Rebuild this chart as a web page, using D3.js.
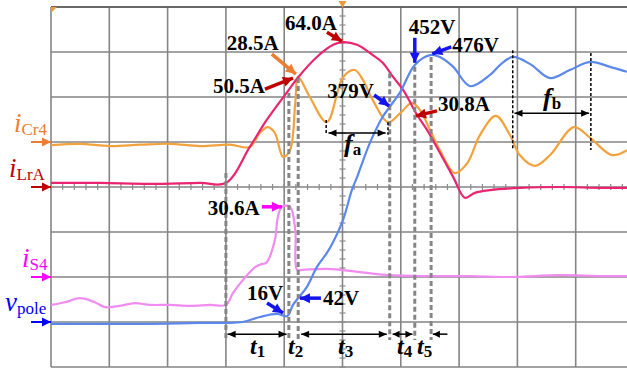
<!DOCTYPE html>
<html>
<head>
<meta charset="utf-8">
<script src="https://cdn.jsdelivr.net/npm/d3@7"></script>
<style>
  html, body { margin: 0; padding: 0; background: #fff; }
  svg { display: block; }
</style>
</head>
<body>
<svg id="chart" width="627" height="369"></svg>
<script>
// scope traces: [time (div), level (div from bottom)]
const iCr4 = [[0,4.93],[0.5,4.96],[1.01,4.91],[1.53,4.94],[2.04,4.96],[2.56,4.91],[3.07,4.94],[3.41,4.89],
  [3.58,5.2],[3.72,5.33],[3.84,5.2],[3.98,4.67],[4.1,4.82],[4.19,5.87],[4.24,6.44],[4.44,6.0],[4.73,5.44],
  [5.01,6.44],[5.21,6.6],[5.35,6.38],[5.52,5.93],[5.78,5.44],[5.99,5.64],[6.19,5.87],[6.33,5.71],[6.5,5.27],
  [6.67,4.82],[6.93,4.31],[7.14,4.53],[7.36,5.16],[7.63,5.58],[7.87,5.16],[8.04,4.71],[8.3,4.47],[8.56,4.71],
  [8.97,5.33],[9.25,5.09],[9.62,4.71],[9.88,4.82]];
const iLrA = [[0,4.09],[0.84,4.09],[1.7,4.07],[2.56,4.09],[3.0,4.09],[3.41,4.89],[3.7,5.49],[4.05,6.11],
  [4.24,6.44],[4.56,6.89],[4.84,7.16],[5.01,7.22],[5.25,7.16],[5.52,6.93],[5.69,6.76],[5.87,6.44],[6.04,6.16],
  [6.28,5.6],[6.45,5.27],[6.67,4.76],[6.9,4.22],[7.1,3.76],[7.27,3.87],[7.53,3.93],[8.04,3.98],[8.73,4.0],
  [9.41,3.98],[9.88,3.98]];
const iS4 = [[0,1.38],[0.24,1.44],[0.5,1.53],[0.75,1.44],[0.93,1.33],[1.18,1.36],[1.44,1.42],[1.7,1.38],
  [2.04,1.38],[2.38,1.36],[2.73,1.38],[3.0,1.38],[3.12,1.64],[3.29,1.93],[3.5,2.22],[3.58,2.27],[3.7,2.33],
  [3.84,2.82],[3.89,3.33],[3.96,3.56],[4.1,3.56],[4.19,3.04],[4.22,2.16],[4.32,2.16],[4.73,2.18],[5.3,2.11],
  [5.81,2.04],[6.5,2.02],[7.19,2.02],[7.87,2.0],[8.73,2.04],[9.41,2.02],[9.88,2.02]];
const vPole = [[0,0.96],[0.84,0.96],[1.7,0.96],[2.56,0.98],[2.98,0.98],[3.29,1.0],[3.58,1.11],[3.88,1.18],
  [4.05,1.13],[4.15,1.38],[4.24,1.53],[4.39,1.78],[4.56,2.22],[4.73,2.53],[4.84,2.78],[5.01,3.27],[5.16,3.93],
  [5.25,4.22],[5.47,4.98],[5.69,5.56],[5.81,5.78],[5.99,6.11],[6.24,6.71],[6.5,6.93],[6.67,6.89],[6.9,6.67],
  [7.19,6.24],[7.53,6.49],[7.7,6.71],[7.92,6.89],[8.22,6.73],[8.56,6.42],[8.9,6.6],[9.25,6.78],[9.59,6.67],
  [9.88,6.56]];

const channelNames = ["i|Cr4", "i|LrA", "i|S4", "v|pole"];
const channelOffsets = [5, 4, 2, 1];
const traceColors = ["#F2A23C", "#EA2470", "#F08CF0", "#5B88EA"];
const labelColors = ["#ED7D31", "#C00000", "#FF00FF", "#0000FF"];

// interval boundaries (gray dashed) and their top ends
const edgeTimes = [3.0, 4.08, 4.24, 5.81, 6.24, 6.52];
const edgeTops = [4.31, 6.09, 6.42, 6.53, 6.67, 6.89];

const calloutText = ["64.0A", "28.5A", "50.5A", "379V", "452V", "476V", "30.8A", "30.6A", "16V", "42V"];
const calloutTip = [[4.99,7.24],[4.2,6.51],[4.15,6.42],[5.8,5.8],[6.24,6.76],[6.54,6.96],[6.26,5.58],
  [3.96,3.56],[3.98,1.2],[4.27,1.53]];

const x = d3.scaleLinear().domain([0, 10]).range([51, 634]);
const y = d3.scaleLinear().domain([0, 8]).range([367, 7]);

const svg = d3.select("#chart");
const serif = "'Liberation Serif', 'Times New Roman', serif";

svg.append("defs").append("clipPath").attr("id", "plot")
  .append("rect").attr("x", x(0)).attr("y", y(8)).attr("width", x(10) - x(0)).attr("height", y(0) - y(8));

// grid
const grid = svg.append("g").attr("stroke", "#858585").attr("stroke-width", 1.6);
grid.selectAll(".gx").data(d3.range(0, 11)).join("line")
  .attr("x1", d => x(d)).attr("x2", d => x(d)).attr("y1", y(0)).attr("y2", y(8));
grid.selectAll(".gy").data(d3.range(0, 9)).join("line")
  .attr("x1", x(0)).attr("x2", x(10)).attr("y1", d => y(d)).attr("y2", d => y(d));
svg.append("line").attr("x1", x(0)).attr("x2", x(10)).attr("y1", y(8)).attr("y2", y(8))
  .attr("stroke", "#555").attr("stroke-width", 1.6);

const minor = svg.append("g").attr("stroke", "#8a8a8a").attr("stroke-width", 1.2);
minor.selectAll(".mx").data(d3.range(0, 50).map(i => i * 0.2)).join("line")
  .attr("x1", d => x(d)).attr("x2", d => x(d)).attr("y1", y(4) - 3).attr("y2", y(4) + 3);
minor.selectAll(".my").data(d3.range(0, 40).map(i => i * 0.2)).join("line")
  .attr("x1", x(5) - 3).attr("x2", x(5) + 3).attr("y1", d => y(d)).attr("y2", d => y(d));

// trigger marks
svg.append("path").attr("fill", "#ED9A3A")
  .attr("d", `M${x(5) - 4},${y(8) - 6}L${x(5) + 4},${y(8) - 6}L${x(5)},${y(8) + 1}Z`);
svg.append("path").attr("fill", "#ED9A3A")
  .attr("d", `M${x(0)},${y(8)}L${x(0) + 6},${y(8)}L${x(0)},${y(8) + 6}Z`);

// traces
const line = d3.line().x(d => x(d[0])).y(d => y(d[1])).curve(d3.curveCatmullRom.alpha(0.5));
const traces = svg.append("g").attr("clip-path", "url(#plot)").attr("fill", "none")
  .attr("stroke-width", 2.2).attr("stroke-linejoin", "round");
[iCr4, iLrA, iS4, vPole].forEach((s, i) => {
  traces.append("path").attr("d", line(s)).attr("stroke", traceColors[i]);
});

// arrows
function arrow(g, x1, y1, x2, y2, color, sw, hl, hw, both) {
  g.append("line").attr("x1", x1).attr("y1", y1).attr("x2", x2).attr("y2", y2)
    .attr("stroke", color).attr("stroke-width", sw);
  const head = (ax, ay, bx, by) => {
    const a = Math.atan2(by - ay, bx - ax);
    const px = bx - hl * Math.cos(a), py = by - hl * Math.sin(a);
    const nx = -Math.sin(a) * hw / 2, ny = Math.cos(a) * hw / 2;
    g.append("path").attr("fill", color)
      .attr("d", `M${bx},${by}L${px + nx},${py + ny}L${px - nx},${py - ny}Z`);
  };
  head(x1, y1, x2, y2);
  if (both) head(x2, y2, x1, y1);
}

// gray dashed interval edges
const edges = svg.append("g").attr("stroke", "#858585").attr("stroke-width", 3).attr("stroke-dasharray", "5,3");
edgeTimes.forEach((t, i) => {
  edges.append("line").attr("x1", x(t)).attr("x2", x(t)).attr("y1", y(edgeTops[i])).attr("y2", y(0.6));
});

// black dotted period marks
const periodMarks = [[4.72, 5.49, 5.16], [5.78, 5.44, 5.16], [7.92, 7.04, 4.82], [9.26, 6.98, 4.82]];
const dots = svg.append("g").attr("stroke", "#000").attr("stroke-width", 1.5).attr("stroke-dasharray", "3,2");
periodMarks.forEach(d => {
  dots.append("line").attr("x1", x(d[0])).attr("x2", x(d[0])).attr("y1", y(d[1])).attr("y2", y(d[2]));
});

const ann = svg.append("g");
arrow(ann, x(4.76), y(5.2), x(5.74), y(5.2), "#000", 1.5, 8, 7, true);
arrow(ann, x(7.95), y(5.64), x(9.23), y(5.64), "#000", 1.5, 8, 7, true);
arrow(ann, x(3.03), y(0.73), x(4.04), y(0.73), "#000", 1.5, 8, 7, true);
arrow(ann, x(4.29), y(0.73), x(5.76), y(0.73), "#000", 1.5, 8, 7, true);
arrow(ann, x(5.86), y(0.73), x(6.2), y(0.73), "#000", 1.5, 7, 7, true);
arrow(ann, x(6.8), y(0.73), x(6.55), y(0.73), "#000", 1.5, 7, 7, false);

// labels with a subscript
function subLabel(g, px, py, main, sub, color, size, subSize, weight, subWeight, subDy) {
  const t = g.append("text").attr("x", px).attr("y", py).attr("fill", color)
    .attr("font-family", serif);
  t.append("tspan").text(main).attr("font-style", "italic").attr("font-weight", weight).attr("font-size", size);
  t.append("tspan").text(sub).attr("font-size", subSize).attr("font-weight", subWeight).attr("dy", subDy);
}
const intervalNames = ["1", "2", "3", "4", "5"];
const intervalX = [250, 288, 338, 397, 417];
intervalNames.forEach((n, i) => subLabel(ann, intervalX[i], 354, "t", n, "#000", 24, 17, "bold", "bold", 3));
subLabel(ann, 344, 152, "f", "a", "#000", 26, 17, "bold", "bold", 3);
subLabel(ann, 543, 106, "f", "b", "#000", 26, 17, "bold", "bold", 3);

// callouts
const calloutColor = ["#C00000", "#ED7D31", "#C00000", "#1414F0", "#1414F0", "#1414F0", "#C00000",
  "#FF00FF", "#1414F0", "#1414F0"];
const calloutTail = [[-15,-9],[-24,-20],[-28,11],[-15,-11],[0,-25],[19,-7],[21,-5],[-20,0],[-16,-10],[21,0]];
const calloutLabel = [[-57,-11],[-69,-24],[-80,15],[-62,-8],[-6,-29],[20,-2],[22,-5],[-74,8],[-36,-13],[23,7]];
calloutText.forEach((s, i) => {
  const tx = x(calloutTip[i][0]), ty = y(calloutTip[i][1]);
  arrow(ann, tx + calloutTail[i][0], ty + calloutTail[i][1], tx, ty, calloutColor[i], 3.5, 10, 10, false);
  ann.append("text").attr("x", tx + calloutLabel[i][0]).attr("y", ty + calloutLabel[i][1])
    .attr("font-family", serif).attr("font-weight", "bold").attr("font-size", 21).attr("fill", "#000").text(s);
});

// channel labels and offset arrows
const chLabelX = [14, 9, 22, 5];
const chLabelDy = [-10, -10, -10, -11];
channelNames.forEach((n, i) => {
  const [main, sub] = n.split("|");
  const ly = y(channelOffsets[i]) + chLabelDy[i];
  subLabel(svg, chLabelX[i], ly, main, sub, labelColors[i], 27, 17, "normal", "normal", 3);
  arrow(svg, 31, y(channelOffsets[i]), x(0), y(channelOffsets[i]), labelColors[i], 2, 9, 9, false);
});
</script>
</body>
</html>
